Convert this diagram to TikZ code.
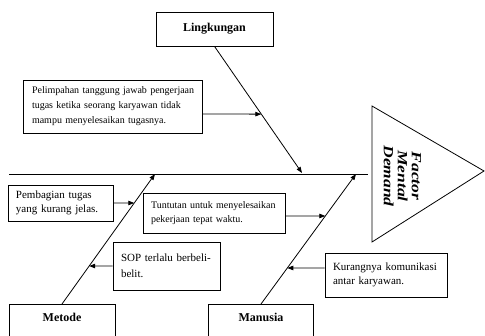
\documentclass[tikz,border=0pt]{standalone}
\usepackage{fontspec}
\setmainfont{Liberation Serif}
\usetikzlibrary{arrows.meta,calc}
\begin{document}
\begin{tikzpicture}[x=1pt,y=-1pt,
  line width=0.8pt,
  catbox/.style={draw, font=\bfseries\fontsize{12}{14}\selectfont},
  causebox/.style={draw, align=left, inner xsep=8pt, inner ysep=3pt,
    font=\fontsize{11}{14}\selectfont},
  smalltext/.style={font=\fontsize{10}{14.5}\selectfont},
  bone/.style={-{Triangle[length=6pt,width=4.5pt]}}]
\useasboundingbox (0,0) rectangle (485,336);
\clip (0,0) rectangle (485,336);

% main categories
\node[catbox, minimum width=117pt, minimum height=34pt] (ling) at (214.5,29) {Lingkungan};
\node[catbox, anchor=north, minimum width=106pt, inner ysep=8pt,
  text height=9pt, text depth=20pt] (met) at (62,304) {Metode};
\node[catbox, anchor=north, minimum width=105pt, inner ysep=8pt,
  text height=9pt, text depth=20pt] (man) at (261,304) {Manusia};

% spine and bones
\coordinate (spL) at (9,174);
\coordinate (spR) at (368,174);
\coordinate (hL) at (302,173);
\coordinate (hM) at (155,174);
\coordinate (hN) at (356,174);
\draw (spL) -- (spR);
\draw[bone] (ling.south) -- (hL);
\draw[bone] (met.north) -- (hM);
\draw[bone] (man.north) -- (hN);

% head of the fish
\coordinate (tA) at (372,106);
\coordinate (tB) at (484,171);
\coordinate (tC) at (372,242);
\draw (tA) -- (tB) -- (tC) -- cycle;
\node[font=\bfseries\itshape\fontsize{14}{14}\selectfont, align=center,
  rotate=-90, xscale=1.25] (fmd) at (402.5,176) {Factor\\Mental\\Demand};

% causes
\node[causebox, smalltext, text width=161pt, inner xsep=9pt, minimum height=53pt,
  font=\fontsize{10}{15}\selectfont] (pel) at (112.5,106.5)
  {\makebox[161pt][s]{Pelimpahan tanggung jawab pengerjaan}\\
   \makebox[161pt][s]{tugas ketika seorang karyawan tidak}\\
   mampu menyelesaikan tugasnya.};
\draw[bone] ([yshift=-7.5pt]pel.east) -- ($(ling.south)!0.535!(hL)$);

\node[causebox, text width=89pt, minimum height=36pt] (pem) at (60.5,203)
  {Pembagian tugas\\yang kurang jelas.};
\draw[bone] (pem.east) -- ($(met.north)!0.777!(hM)$);

\node[causebox, text width=91pt, minimum height=48pt,
  font=\fontsize{11}{16}\selectfont] (sop) at (166.5,266)
  {SOP terlalu berbeli-\\belit.};
\draw[bone] (sop.west) -- ($(met.north)!0.292!(hM)$);

\node[causebox, smalltext, text width=126pt, minimum height=40pt] (tun) at (214,213)
  {Tuntutan untuk menyelesaikan\\pekerjaan tepat waktu.};
\draw[bone] ([yshift=-3pt]tun.east) -- ($(man.north)!0.677!(hN)$);

\node[causebox, text width=106pt, minimum height=44pt] (kur) at (386,275)
  {Kurangnya komunikasi\\antar karyawan.};
\draw[bone] ([yshift=7pt]kur.west) -- ($(man.north)!0.277!(hN)$);
\end{tikzpicture}
\end{document}
